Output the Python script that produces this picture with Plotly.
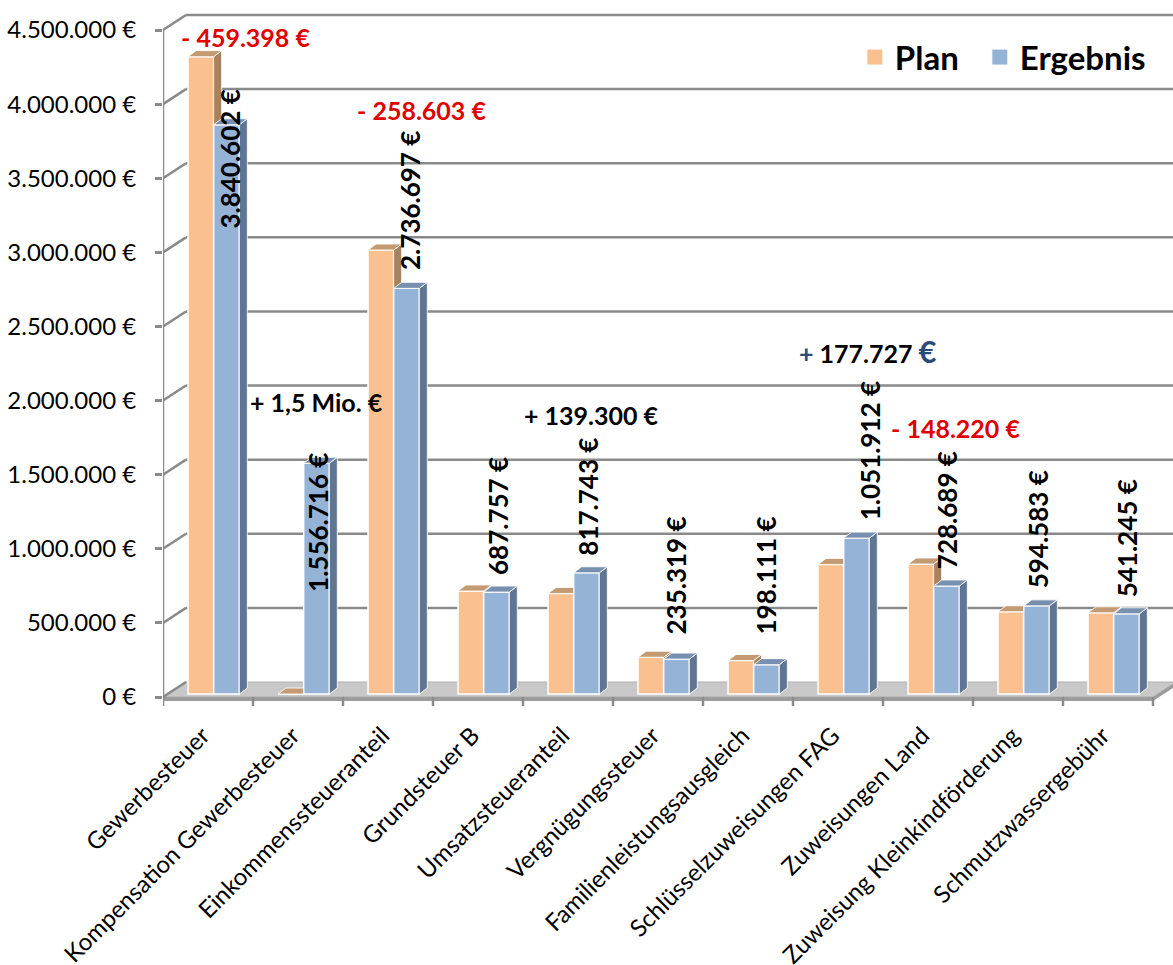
import plotly.graph_objects as go

# ---------------- data ----------------
categories = ["Gewerbesteuer", "Kompensation Gewerbesteuer", "Einkommenssteueranteil",
              "Grundsteuer B", "Umsatzsteueranteil", "Vergnügungssteuer",
              "Familienleistungsausgleich", "Schlüsselzuweisungen FAG", "Zuweisungen Land",
              "Zuweisung Kleinkindförderung", "Schmutzwassergebühr"]
plan = [4300000, 0, 2995300, 695000, 678443, 248000, 226000, 874185, 876909, 555000, 548000]
ergebnis = [3840602, 1556716, 2736697, 687757, 817743, 235319, 198111, 1051912, 728689, 594583, 541245]
ergebnis_labels = ["3.840.602 €", "1.556.716 €", "2.736.697 €", "687.757 €", "817.743 €",
                   "235.319 €", "198.111 €", "1.051.912 €", "728.689 €", "594.583 €", "541.245 €"]
ytick_vals = [0, 500000, 1000000, 1500000, 2000000, 2500000, 3000000, 3500000, 4000000, 4500000]
ytick_text = ["0 €", "500.000 €", "1.000.000 €", "1.500.000 €", "2.000.000 €", "2.500.000 €",
              "3.000.000 €", "3.500.000 €", "4.000.000 €", "4.500.000 €"]

# difference call-outs (text, kind)
diff_text = ["- 459.398 €", "+ 1,5 Mio. €", "- 258.603 €", "+ 139.300 €", "+ 177.727 €", "- 148.220 €"]
diff_kind = ["minus", "plus", "minus", "plus", "plusblue", "minus"]

# ---------------- placement (positions, not data) ----------------
label_x = [0.24, 1.22, 2.25, 3.22, 4.22, 5.2, 6.2, 7.36, 8.21, 9.22, 10.21]
label_y = [3630000, 1180000, 3350000, 1220000, 1350000, 820000, 820000, 1660000, 1260000, 1130000, 1070000]
diff_x = [0.42, 1.2, 2.37, 4.26, 7.33, 8.3]
diff_y = [4455000, 1990000, 3960000, 1903000, 2335000, 1815000]

# ---------------- geometry / style ----------------
W_PX, H_PX = 1173, 965
M_L, M_R, M_T, M_B = 163, 0, 8, 255
Y0_PX, YTOP_PX = 697, 30          # pixel of 0 and 4.5 Mio on the front axis
YPP = (ytick_vals[-1] - ytick_vals[0]) / (Y0_PX - YTOP_PX)   # value units per pixel
CAT_PX = 90.0
plot_bottom = H_PX - M_B
y_lo = -(plot_bottom - Y0_PX) * YPP
y_hi = ytick_vals[-1] + (YTOP_PX - M_T) * YPP
x_lo = -0.5
x_hi = x_lo + (W_PX - M_L - M_R) / CAT_PX

BDX, BDY = 23 / CAT_PX, 15 * YPP     # back wall offset
DDX, DDY = 8 / CAT_PX, 6 * YPP       # bar depth
BASE = 3 * YPP
BW = 0.285
OFF_P = -0.222
OFF_E = OFF_P + BW

C_PLAN, C_PLAN_TOP, C_PLAN_SIDE = "#FAC090", "#C49A72", "#A8825F"
C_ERG, C_ERG_TOP, C_ERG_SIDE = "#95B3D7", "#7890B0", "#5F7594"
GRID = "#8a8a8a"
RED = "#e00000"
BLUE = "#2a4a7a"
FONT = "Lato"

n = len(categories)
fig = go.Figure()

# ---------------- back walls, floor and grid (shapes below traces) ----------------
shapes = []
floor_path = (f"M {x_lo},0 L {n - 0.5},0 L {n - 0.5 + BDX},{BDY} L {x_lo + BDX},{BDY} Z")
shapes.append(dict(type="path", xref="x", yref="y", path=floor_path, layer="below",
                   fillcolor="#c8c8c8", line=dict(color="#b0b0b0", width=1)))
band = 4 * YPP
band_path = (f"M {x_lo},0 L {n - 0.5},0 L {n - 0.5 + BDX},{BDY} L {n - 0.5 + BDX},{BDY - band} "
             f"L {n - 0.5},{-band} L {x_lo},{-band} Z")
shapes.append(dict(type="path", xref="x", yref="y", path=band_path, layer="below",
                   fillcolor="#9c9c9c", line=dict(width=0)))
for v in ytick_vals:
    if v > 0:
        shapes.append(dict(type="line", xref="x", yref="y", x0=x_lo + BDX, x1=x_hi, y0=v + BDY, y1=v + BDY,
                           layer="below", line=dict(color=GRID, width=2.5)))
    shapes.append(dict(type="line", xref="x", yref="y", x0=x_lo, x1=x_lo + BDX, y0=v, y1=v + BDY,
                       layer="below", line=dict(color=GRID, width=2.5)))
shapes.append(dict(type="line", xref="x", yref="y", x0=x_lo, x1=x_lo, y0=0, y1=ytick_vals[-1],
                   layer="below", line=dict(color=GRID, width=2.5)))
for i in range(n + 1):
    shapes.append(dict(type="line", xref="x", yref="y", x0=x_lo + i, x1=x_lo + i, y0=0, y1=-9 * YPP,
                       layer="below", line=dict(color=GRID, width=2.5)))

# ---------------- front faces (bars) ----------------
idx = list(range(n))
fig.add_trace(go.Bar(x=idx, y=plan, base=BASE, width=BW, offset=OFF_P, name="Plan", showlegend=False,
                     marker=dict(color=C_PLAN, line=dict(color="white", width=1.5))))
fig.add_trace(go.Bar(x=idx, y=ergebnis, base=BASE, width=BW, offset=OFF_E, name="Ergebnis", showlegend=False,
                     marker=dict(color=C_ERG, line=dict(color="white", width=1.5))))


def add_poly(xs, ys, color):
    fig.add_trace(go.Scatter(x=xs, y=ys, mode="lines", fill="toself", fillcolor=color,
                             line=dict(color="rgba(255,255,255,0.85)", width=1),
                             hoverinfo="skip", showlegend=False))


ptx, pty, psx, psy = [], [], [], []
for i in range(n):
    x0 = i + OFF_P
    x1 = x0 + BW
    tp = BASE + plan[i]
    te = BASE + ergebnis[i]
    if te <= tp:
        px = [x0, x1, x1 + DDX, x0 + DDX, x0]
        py = [tp, tp, tp + DDY, tp + DDY, tp]
    elif te >= tp + DDY:
        px = [x0, x1, x1, x0 + DDX, x0]
        py = [tp, tp, tp + DDY, tp + DDY, tp]
    else:
        xm = x1 + DDX * (te - tp) / DDY
        px = [x0, x1, x1, xm, x1 + DDX, x0 + DDX, x0]
        py = [tp, tp, te, te, tp + DDY, tp + DDY, tp]
    ptx += px + [None]
    pty += py + [None]
    if te < tp:
        psx += [x1, x1, x1 + DDX, x1 + DDX, x1, None]
        psy += [max(BASE, te), tp, tp + DDY, max(BASE + DDY, te), max(BASE, te), None]
add_poly(psx, psy, C_PLAN_SIDE)
add_poly(ptx, pty, C_PLAN_TOP)

etx, ety, esx, esy = [], [], [], []
for i in range(n):
    x0 = i + OFF_E
    x1 = x0 + BW
    te = BASE + ergebnis[i]
    etx += [x0, x1, x1 + DDX, x0 + DDX, x0, None]
    ety += [te, te, te + DDY, te + DDY, te, None]
    esx += [x1, x1, x1 + DDX, x1 + DDX, x1, None]
    esy += [BASE, te, te + DDY, BASE + DDY, BASE, None]
add_poly(esx, esy, C_ERG_SIDE)
add_poly(etx, ety, C_ERG_TOP)

# legend entries (square swatches)
for name, col in (("Plan\u00a0\u00a0", C_PLAN), ("Ergebnis", C_ERG)):
    fig.add_trace(go.Scatter(x=[None], y=[None], mode="markers", name=name,
                             marker=dict(symbol="square", size=18, color=col,
                                         line=dict(color="white", width=1))))

# ---------------- annotations ----------------
annotations = []
for i in range(n):
    annotations.append(dict(x=label_x[i], y=label_y[i], xref="x", yref="y", text=f"<b>{ergebnis_labels[i]}</b>",
                            textangle=-90, showarrow=False, font=dict(family=FONT, size=26, color="black")))
for t, k, x, y in zip(diff_text, diff_kind, diff_x, diff_y):
    if k == "minus":
        txt = f"<b>{t}</b>"
        col = RED
    elif k == "plus":
        txt = f"<b>{t}</b>"
        col = "black"
    else:
        body = t[1:-1]
        txt = (f"<b><span style='color:{BLUE}'>+</span>{body}"
               f"<span style='color:{BLUE};font-size:31px'>€</span></b>")
        col = "black"
    annotations.append(dict(x=x, y=y, xref="x", yref="y", text=txt, showarrow=False,
                            font=dict(family=FONT, size=25, color=col)))

fig.update_layout(
    width=W_PX, height=H_PX,
    margin=dict(l=M_L, r=M_R, t=M_T, b=M_B, pad=0, autoexpand=False),
    paper_bgcolor="white", plot_bgcolor="white",
    barmode="overlay",
    shapes=shapes,
    annotations=annotations,
    showlegend=True,
    legend=dict(orientation="h", x=0.685, y=0.93, xanchor="left", yanchor="middle",
                font=dict(family=FONT, size=33, color="black", weight="bold"),
                bgcolor="rgba(0,0,0,0)", traceorder="normal"),
    xaxis=dict(range=[x_lo, x_hi], showgrid=False, zeroline=False, showline=False, automargin=False,
               tickmode="array", tickvals=[i - 0.06 for i in idx], ticktext=categories,
               tickangle=-45, ticks="outside", ticklen=1, tickcolor="rgba(0,0,0,0)",
               tickfont=dict(family=FONT, size=24, color="black")),
    yaxis=dict(range=[y_lo, y_hi], showgrid=False, zeroline=False, showline=False, automargin=False,
               tickmode="array", tickvals=ytick_vals, ticktext=ytick_text,
               ticks="outside", ticklen=7, tickwidth=2.5, tickcolor=GRID, ticklabelstandoff=14,
               tickfont=dict(family=FONT, size=24, color="black")),
)

fig.write_html("out.html")
